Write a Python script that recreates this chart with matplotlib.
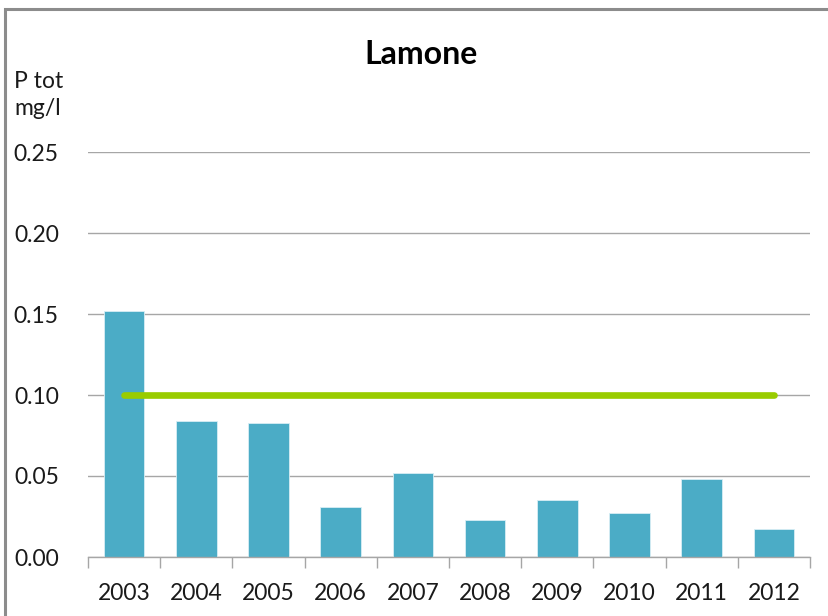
import matplotlib.pyplot as plt
from matplotlib.patches import Rectangle
import numpy as np

plt.rcParams['font.family'] = ['Lato', 'DejaVu Sans']

years = ['2003', '2004', '2005', '2006', '2007', '2008', '2009', '2010', '2011', '2012']
p_tot = [0.152, 0.084, 0.083, 0.031, 0.052, 0.023, 0.035, 0.027, 0.048, 0.017]
limit = [0.10] * len(years)
y_ticks = [0.00, 0.05, 0.10, 0.15, 0.20, 0.25]

bar_color = '#4BACC6'
limit_color = '#99CC00'
grid_color = '#A6A6A6'
text_color = '#1a1a1a'

fig = plt.figure(figsize=(8.29, 6.16), dpi=100, facecolor='white')
ax = fig.add_axes([88 / 829, 1 - 557 / 616, (810 - 88) / 829, (557 - 152) / 616])

x = np.arange(len(years))
ax.bar(x, p_tot, width=0.56, color=bar_color, edgecolor='#D8EEF4', linewidth=0.6, zorder=2)
ax.plot(x, limit, color=limit_color, linewidth=4.8, solid_capstyle='round', zorder=3)

ax.set_xlim(-0.5, len(years) - 0.5)
ax.set_ylim(0, 0.25)
ax.set_yticks(y_ticks)
ax.set_yticklabels([f'{v:.2f}' for v in y_ticks])
ax.yaxis.grid(True, color=grid_color, linewidth=1.0, zorder=0)
ax.set_axisbelow(True)

ax.set_xticks(x)
ax.set_xticklabels(years)
ax.set_xticks(np.arange(-0.5, len(years)), minor=True)
ax.tick_params(axis='x', which='major', length=0, pad=19, labelsize=16.5, labelcolor=text_color)
ax.tick_params(axis='x', which='minor', length=8, width=1, color=grid_color)
ax.tick_params(axis='y', length=0, pad=21, labelsize=16.5, labelcolor=text_color)

for side in ['top', 'right', 'left']:
    ax.spines[side].set_visible(False)
ax.spines['bottom'].set_color(grid_color)
ax.spines['bottom'].set_linewidth(1.0)

fig.text(421 / 829, 1 - 54 / 616, 'Lamone', ha='center', va='center',
         fontsize=23, fontweight='bold', color='black')
fig.text(14 / 829, 1 - 95 / 616, 'P tot\nmg/l', ha='left', va='center',
         fontsize=16.5, color=text_color, linespacing=1.35)

# chart frame, cut off on the right and bottom
fig.patches.append(Rectangle((5 / 829, -0.1), 1.2, 1 - 9 / 616 + 0.1,
                             transform=fig.transFigure, fill=False,
                             edgecolor='#8C8C8C', linewidth=2.2))

fig.savefig('out.png', dpi=100, facecolor='white')
